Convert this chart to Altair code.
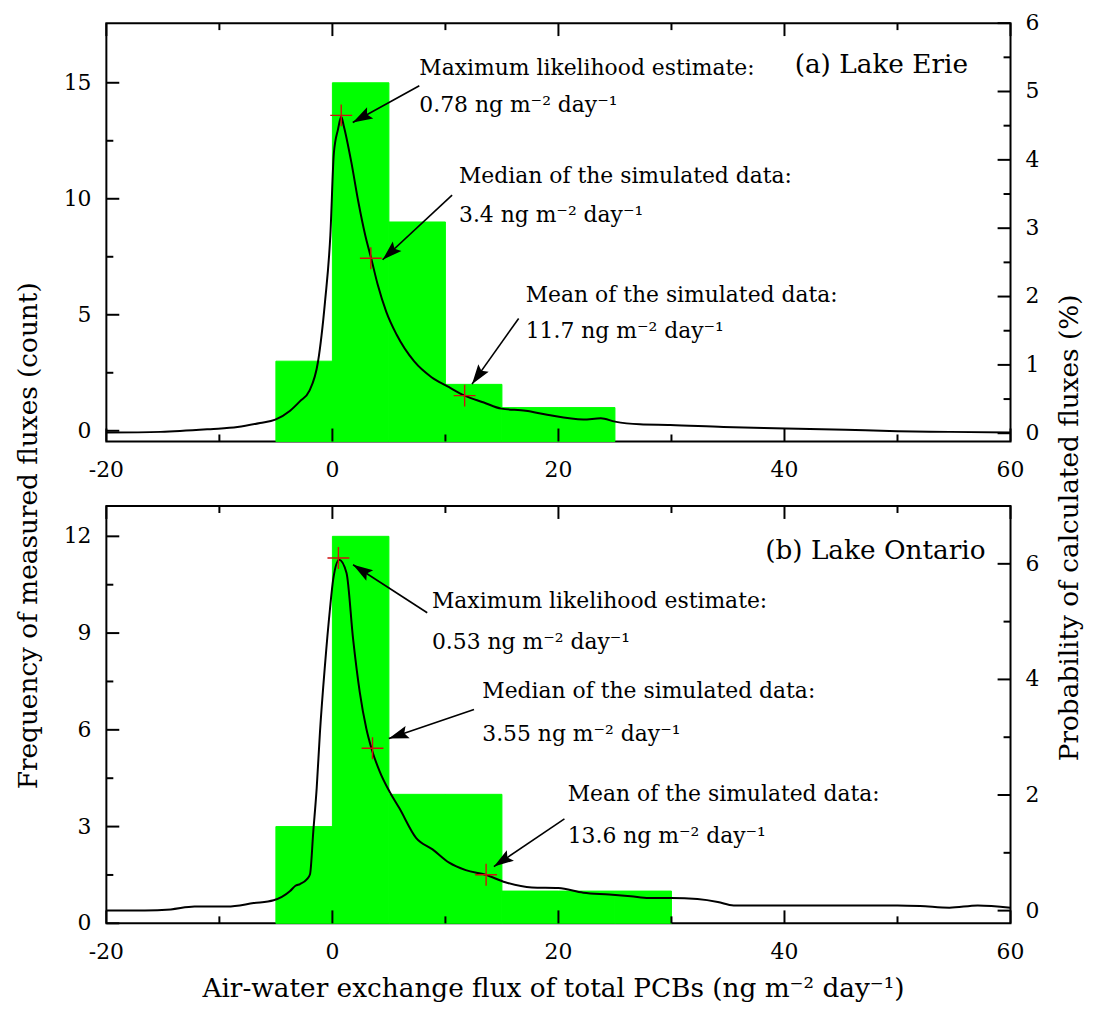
import math
import altair as alt
import pandas as pd

FONT = "DejaVu Serif"
GREEN = "#00ff00"
RED = "#d01010"

# ---------------- data ----------------
x_major = [-20, 0, 20, 40, 60]
x_minor = [-10, 10, 30, 50]
x_labels = ["-20", "0", "20", "40", "60"]

# panel (a) Lake Erie
a_bin_lo = [-5, 0, 5, 10, 15, 20]
a_bin_hi = [0, 5, 10, 15, 20, 25]
a_count = [3, 15, 9, 2, 1, 1]
a_flux = [-20, -15.2, -10.8, -8.4, -6.4, -5.05, -3.74, -2.86, -2.04, -1.27, -0.65, -0.18,
          0.13, 0.5, 0.78, 1.0, 1.67, 2.29, 2.9, 3.43, 4.0, 4.76, 5.69, 7.24, 8.77, 10.15,
          11.71, 13.4, 14.95, 17.1, 19.0, 22.2, 23.75, 25.0, 27.2, 29.9, 34.6, 40.1, 45.4,
          50.0, 54.6, 60.0]
a_prob = [0.01, 0.02, 0.06, 0.09, 0.15, 0.20, 0.33, 0.47, 0.62, 1.05, 1.93, 2.9,
          4.1, 4.45, 4.63, 4.5, 3.97, 3.39, 2.9, 2.56, 2.18, 1.78, 1.44, 1.05, 0.82, 0.69,
          0.55, 0.45, 0.36, 0.33, 0.27, 0.20, 0.22, 0.17, 0.13, 0.12, 0.09, 0.07, 0.05,
          0.03, 0.02, 0.01]
a_mark_flux = [0.78, 3.4, 11.7]
a_mark_prob = [4.65, 2.56, 0.55]
a_note_text = ["Maximum likelihood estimate:", "0.78 ng m\u207b\u00b2 day\u207b\u00b9",
               "Median of the simulated data:", "3.4 ng m\u207b\u00b2 day\u207b\u00b9",
               "Mean of the simulated data:", "11.7 ng m\u207b\u00b2 day\u207b\u00b9"]
a_note_x = [7.69, 7.69, 11.2, 11.2, 17.1, 17.1]
a_note_y = [15.64, 14.02, 11.0, 9.3, 5.87, 4.29]
a_arrow_x1 = [7.69, 10.59, 16.48]
a_arrow_y1 = [14.87, 10.16, 4.84]
a_arrow_x2 = [1.80, 4.44, 12.35]
a_arrow_y2 = [13.29, 7.37, 2.01]
a_label = "(a) Lake Erie"
a_label_x = 40.9
a_label_y = 15.77
a_cnt_major = [0, 5, 10, 15]
a_cnt_labels = ["0", "5", "10", "15"]
a_cnt_minor = [2.5, 7.5, 12.5]
a_prob_major = [0, 1, 2, 3, 4, 5, 6]
a_prob_labels = ["0", "1", "2", "3", "4", "5", "6"]
a_prob_minor = [0.5, 1.5, 2.5, 3.5, 4.5, 5.5]

# panel (b) Lake Ontario
b_bin_lo = [-5, 0, 5, 10, 15, 20, 25]
b_bin_hi = [0, 5, 10, 15, 20, 25, 30]
b_count = [3, 12, 4, 4, 1, 1, 1]
b_flux = [-20, -16.6, -14.3, -12.2, -9.3, -6.96, -5.2, -3.74, -3.27, -2.86, -2.27, -1.98,
          -1.69, -1.39, -1.1, -0.66, -0.22, 0.07, 0.6, 1.25, 1.83, 2.42, 3.0, 3.45, 4.18,
          5.05, 5.93, 7.4, 8.86, 10.33, 11.8, 13.56, 15.3, 17.65, 20.0, 22.2, 24.5, 26.4,
          28.0, 30.0, 32.3, 34.1, 35.5, 40.8, 50.0, 52.0, 54.6, 57.1, 60.0]
b_prob = [0.0, 0.0, 0.02, 0.07, 0.07, 0.13, 0.18, 0.34, 0.43, 0.46, 0.54, 0.63,
          1.37, 2.12, 3.09, 4.24, 5.21, 5.73, 6.07, 5.84, 4.7, 3.78, 3.15, 2.81, 2.41,
          2.06, 1.77, 1.26, 1.06, 0.83, 0.70, 0.62, 0.49, 0.40, 0.39, 0.31, 0.28, 0.25,
          0.22, 0.22, 0.20, 0.15, 0.09, 0.09, 0.09, 0.08, 0.05, 0.09, 0.05]
b_mark_flux = [0.53, 3.55, 13.6]
b_mark_prob = [6.1, 2.81, 0.62]
b_note_text = ["Maximum likelihood estimate:", "0.53 ng m\u207b\u00b2 day\u207b\u00b9",
               "Median of the simulated data:", "3.55 ng m\u207b\u00b2 day\u207b\u00b9",
               "Mean of the simulated data:", "13.6 ng m\u207b\u00b2 day\u207b\u00b9"]
b_note_x = [8.81, 8.81, 13.26, 13.26, 20.82, 20.82]
b_note_y = [9.99, 8.71, 7.19, 5.88, 4.0, 2.70]
b_arrow_x1 = [8.39, 12.53, 20.53]
b_arrow_y1 = [9.63, 6.63, 3.24]
b_arrow_x2 = [1.83, 4.99, 14.29]
b_arrow_y2 = [11.12, 5.73, 1.76]
b_label = "(b) Lake Ontario"
b_label_x = 38.29
b_label_y = 11.53
b_cnt_major = [0, 3, 6, 9, 12]
b_cnt_labels = ["0", "3", "6", "9", "12"]
b_cnt_minor = [1.5, 4.5, 7.5, 10.5]
b_prob_major = [0, 2, 4, 6]
b_prob_labels = ["0", "2", "4", "6"]
b_prob_minor = [1, 3, 5]

X_TITLE = "Air-water exchange flux of total PCBs (ng m\u207b\u00b2 day\u207b\u00b9)"
L_TITLE = "Frequency of measured fluxes (count)"
R_TITLE = "Probability of calculated fluxes (%)"

W = 910
MAJ = 13
MIN = 7
ARROW_PATH = "M0,0L-0.32,1L0,0.82L0.32,1Z"
CROSS_PATH = "M-1,0L1,0M0,-1L0,1"
TICK_FS = 22
TITLE_FS = 26.5


def panel(H, cnt_dom, prob_dom, bin_lo, bin_hi, counts, flux, prob, mk_f, mk_p,
          n_text, n_x, n_y, ax1, ay1, ax2, ay2, label, lx, ly,
          cnt_major, cnt_labels, cnt_minor, prob_major, prob_labels, prob_minor, bottom):
    xs = alt.Scale(domain=[-20, 60], nice=False, zero=False)
    cs = alt.Scale(domain=cnt_dom, nice=False, zero=False)
    ps = alt.Scale(domain=prob_dom, nice=False, zero=False)

    bars_df = pd.DataFrame({"lo": bin_lo, "hi": bin_hi, "c": counts})
    bars = alt.Chart(bars_df).mark_rect(color=GREEN, stroke=GREEN, opacity=1,
                                        strokeWidth=1).encode(
        x=alt.X("lo:Q", scale=xs, axis=None),
        x2="hi:Q",
        y=alt.Y("c:Q", scale=cs, axis=None),
        y2=alt.value(H),
    )

    def xticks(vals, length, top):
        df = pd.DataFrame({"v": vals})
        if top:
            yy, yy2 = alt.value(0), alt.value(length)
        else:
            yy, yy2 = alt.value(H), alt.value(H - length)
        return alt.Chart(df).mark_rule(color="black", strokeWidth=2).encode(
            x=alt.X("v:Q", scale=xs, axis=None), y=yy, y2=yy2)

    def cticks(vals, length):
        df = pd.DataFrame({"v": vals})
        return alt.Chart(df).mark_rule(color="black", strokeWidth=2).encode(
            y=alt.Y("v:Q", scale=cs, axis=None), x=alt.value(0), x2=alt.value(length))

    def pticks(vals, length):
        df = pd.DataFrame({"v": vals})
        return alt.Chart(df).mark_rule(color="black", strokeWidth=2).encode(
            y=alt.Y("v:Q", scale=ps, axis=None), x=alt.value(W), x2=alt.value(W - length))

    xlab = alt.Chart(pd.DataFrame({"v": x_major, "t": x_labels})).mark_text(
        font=FONT, fontSize=TICK_FS, align="center", baseline="top", color="black").encode(
        x=alt.X("v:Q", scale=xs, axis=None), y=alt.value(H + 19), text="t:N")
    clab = alt.Chart(pd.DataFrame({"v": cnt_major, "t": cnt_labels})).mark_text(
        font=FONT, fontSize=TICK_FS, align="right", baseline="middle", color="black").encode(
        y=alt.Y("v:Q", scale=cs, axis=None), x=alt.value(-15), text="t:N")
    plab = alt.Chart(pd.DataFrame({"v": prob_major, "t": prob_labels})).mark_text(
        font=FONT, fontSize=TICK_FS, align="left", baseline="middle", color="black").encode(
        y=alt.Y("v:Q", scale=ps, axis=None), x=alt.value(W + 15), text="t:N")

    notes_df = pd.DataFrame({"x": n_x, "y": n_y, "t": n_text})
    notes = alt.Chart(notes_df).mark_text(align="left", baseline="middle", font=FONT,
                                          fontSize=22, color="black").encode(
        x=alt.X("x:Q", scale=xs, axis=None), y=alt.Y("y:Q", scale=cs, axis=None), text="t:N")

    pxx = W / 80.0
    pxy = H / (cnt_dom[1] - cnt_dom[0])
    angles = []
    for x1, y1, x2, y2 in zip(ax1, ay1, ax2, ay2):
        dx = (x2 - x1) * pxx
        dy = -(y2 - y1) * pxy
        angles.append(math.degrees(math.atan2(dx, -dy)) % 360)
    arr_df = pd.DataFrame({"x1": ax1, "y1": ay1, "x2": ax2, "y2": ay2, "ang": angles})
    arr_lines = alt.Chart(arr_df).mark_rule(color="black", strokeWidth=1.6).encode(
        x=alt.X("x1:Q", scale=xs, axis=None), y=alt.Y("y1:Q", scale=cs, axis=None),
        x2="x2:Q", y2="y2:Q")
    arr_heads = alt.Chart(arr_df).mark_point(shape=ARROW_PATH, filled=True, color="black",
                                             opacity=1, size=1600, strokeWidth=0).encode(
        x=alt.X("x2:Q", scale=xs, axis=None), y=alt.Y("y2:Q", scale=cs, axis=None),
        angle=alt.Angle("ang:Q", scale=None))

    lab_df = pd.DataFrame({"x": [lx], "y": [ly], "t": [label]})
    lab = alt.Chart(lab_df).mark_text(align="left", baseline="middle", font=FONT,
                                      fontSize=26.5, color="black").encode(
        x=alt.X("x:Q", scale=xs, axis=None), y=alt.Y("y:Q", scale=cs, axis=None), text="t:N")

    left_layers = [
        bars,
        xticks(x_major, MAJ, False), xticks(x_minor, MIN, False),
        xticks(x_major, MAJ, True), xticks(x_minor, MIN, True),
        cticks(cnt_major, MAJ), cticks(cnt_minor, MIN),
        arr_lines, arr_heads, notes, lab, xlab, clab,
    ]
    if bottom:
        xt = alt.Chart(pd.DataFrame({"t": [X_TITLE]})).mark_text(
            font=FONT, fontSize=TITLE_FS, align="center", baseline="middle",
            color="black").encode(x=alt.value(450), y=alt.value(H + 66), text="t:N")
        lt = alt.Chart(pd.DataFrame({"t": [L_TITLE]})).mark_text(
            font=FONT, fontSize=TITLE_FS, align="center", baseline="middle", angle=270,
            color="black").encode(x=alt.value(-78), y=alt.value(30), text="t:N")
        rt = alt.Chart(pd.DataFrame({"t": [R_TITLE]})).mark_text(
            font=FONT, fontSize=TITLE_FS, align="center", baseline="middle", angle=270,
            color="black").encode(x=alt.value(W + 60), y=alt.value(22), text="t:N")
        left_layers += [xt, lt, rt]
    left = alt.layer(*left_layers)

    curve_df = pd.DataFrame({"f": flux, "p": prob})
    curve = alt.Chart(curve_df).mark_line(color="black", strokeWidth=2,
                                          interpolate="monotone").encode(
        x=alt.X("f:Q", scale=xs, axis=None),
        y=alt.Y("p:Q", scale=ps, axis=None),
    )
    mk_df = pd.DataFrame({"f": mk_f, "p": mk_p})
    marks = alt.Chart(mk_df).mark_point(shape=CROSS_PATH, filled=False, color=RED,
                                        opacity=1, size=484, strokeWidth=1.4).encode(
        x=alt.X("f:Q", scale=xs, axis=None), y=alt.Y("p:Q", scale=ps, axis=None))
    right = alt.layer(curve, marks, pticks(prob_major, MAJ), pticks(prob_minor, MIN), plab)

    return alt.layer(left, right).resolve_scale(y="independent").properties(width=W, height=H)


top = panel(421, [-0.46, 17.57], [-0.12, 6.0], a_bin_lo, a_bin_hi, a_count, a_flux, a_prob,
            a_mark_flux, a_mark_prob, a_note_text, a_note_x, a_note_y,
            a_arrow_x1, a_arrow_y1, a_arrow_x2, a_arrow_y2, a_label, a_label_x, a_label_y,
            a_cnt_major, a_cnt_labels, a_cnt_minor, a_prob_major, a_prob_labels, a_prob_minor,
            False)
bot = panel(420, [0, 12.94], [-0.22, 7.0], b_bin_lo, b_bin_hi, b_count, b_flux, b_prob,
            b_mark_flux, b_mark_prob, b_note_text, b_note_x, b_note_y,
            b_arrow_x1, b_arrow_y1, b_arrow_x2, b_arrow_y2, b_label, b_label_x, b_label_y,
            b_cnt_major, b_cnt_labels, b_cnt_minor, b_prob_major, b_prob_labels, b_prob_minor,
            True)

chart = alt.vconcat(top, bot, spacing=65, bounds="flush").properties(
    padding={"left": 6, "top": 0, "right": 5, "bottom": 5},
    background="white",
).configure_view(
    stroke="black", strokeWidth=2
)

chart.save("out.html", embed_options={"renderer": "svg", "actions": False})
